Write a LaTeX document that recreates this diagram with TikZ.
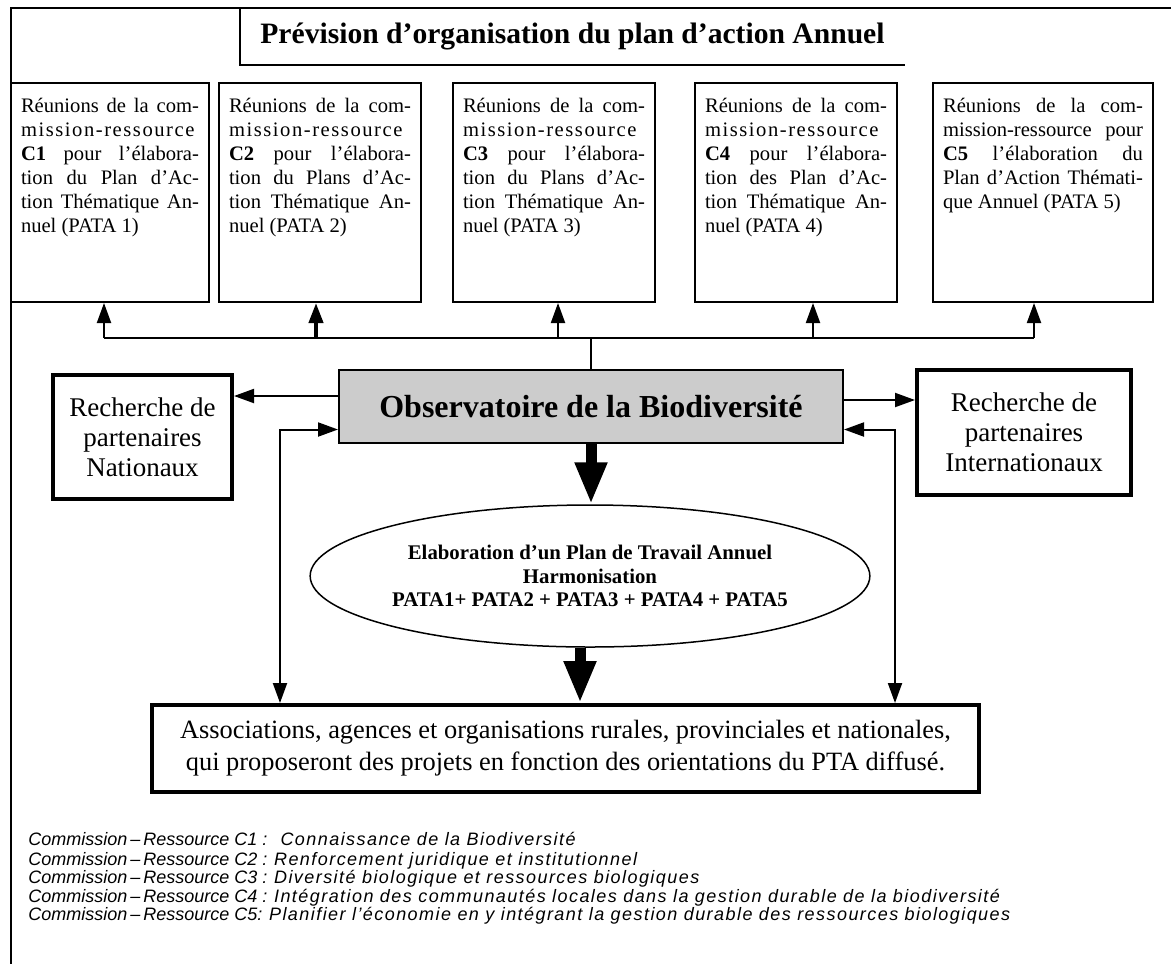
\documentclass[tikz,border=0pt]{standalone}
\usepackage{fontspec}
\setmainfont{Liberation Serif}
\newfontfamily\legendfont{Liberation Sans}
\usepackage{xcolor}
\usepackage{tikz}
\definecolor{obsgray}{RGB}{204, 204, 204}
\usetikzlibrary{shapes.geometric, arrows.meta, calc}

\newcommand{\reunion}[2]{\parbox[t][97.3pt][t]{#1}{\hyphenpenalty=10000\strut #2}}
\newcommand{\spaced}[1]{{\addfontfeature{LetterSpace=7.5}#1}}
\newcommand{\ressource}[2]{Commission\,–\,Ressource #1 {\addfontfeature{LetterSpace=8}#2}}

\begin{document}
\begin{tikzpicture}[
    x=0.5pt, y=-0.5pt,
    pata/.style={draw, line width=1pt, inner xsep=5pt, inner ysep=6.1pt, font=\fontsize{10.3}{12}\selectfont},
    partner/.style={draw, line width=2pt, align=center, font=\fontsize{13.5}{15}\selectfont},
    conn/.style={line width=1pt},
    tip/.style={conn, -{Triangle[length=10pt, width=7pt]}},
    dbl/.style={conn, {Triangle[length=10pt, width=7pt]}-{Triangle[length=10pt, width=7pt]}},
    bigarrow/.style={line width=5.5pt, -{Triangle[length=21pt, width=15pt]}},
    legend/.style={anchor=base west, inner sep=0pt, font=\legendfont\itshape\fontsize{9}{10}\selectfont}
]
    \useasboundingbox (0,0) rectangle (1171,964);
    \draw[conn] (1171,8) -| (11,964);

    \node[minimum width=332.5pt, minimum height=28.5pt, inner sep=0pt, font=\bfseries\fontsize{14.8}{17}\selectfont] (title) at (572.5,36.5) {Prévision d’organisation du plan d’action Annuel};
    \draw[conn] (title.north west) |- (title.south east);

    % commissions-ressources
    \node[pata] (b1) at (110,192.5) {\reunion{89pt}{Réunions de la com-\linebreak \spaced{mission-ressource}\linebreak \textbf{C1} pour l’élabora-\linebreak tion du Plan d’Ac-\linebreak tion Thématique An-\linebreak nuel (PATA 1)}};
    \node[pata] (b2) at (320,192.5) {\reunion{91pt}{Réunions de la com-\linebreak \spaced{mission-ressource}\linebreak \textbf{C2} pour l’élabora-\linebreak tion du Plans d’Ac-\linebreak tion Thématique An-\linebreak nuel (PATA 2)}};
    \node[pata] (b3) at (554,192.5) {\reunion{91pt}{Réunions de la com-\linebreak \spaced{mission-ressource}\linebreak \textbf{C3} pour l’élabora-\linebreak tion du Plans d’Ac-\linebreak tion Thématique An-\linebreak nuel (PATA 3)}};
    \node[pata] (b4) at (796,192.5) {\reunion{91pt}{Réunions de la com-\linebreak \spaced{mission-ressource}\linebreak \textbf{C4} pour l’élabora-\linebreak tion des Plan d’Ac-\linebreak tion Thématique An-\linebreak nuel (PATA 4)}};
    \node[pata] (b5) at (1043,192.5) {\reunion{100pt}{Réunions de la com-\linebreak mission-ressource pour\linebreak \textbf{C5} l’élaboration du\linebreak Plan d’Action Thémati-\linebreak que Annuel (PATA 5)}};

    \node[draw, conn, fill=obsgray, minimum width=252pt, minimum height=36.5pt, inner sep=0pt, font=\bfseries\fontsize{16}{19}\selectfont] (obs) at (591,406.5) {Observatoire de la Biodiversité};
    \node[partner, minimum width=89.5pt, minimum height=62pt] (nat) at (142.5,437) {Recherche de\\partenaires\\Nationaux};
    \node[partner, minimum width=107pt, minimum height=62.5pt] (inter) at (1024,432.5) {Recherche de\\partenaires\\Internationaux};
    \node[draw, ellipse, line width=0.75pt, minimum width=243pt, minimum height=71pt, inner sep=0pt, align=center, font=\bfseries\fontsize{10.4}{11.75}\selectfont] (plan) at (590,576) {Elaboration d’un Plan de Travail Annuel\\Harmonisation\\PATA1+ PATA2 + PATA3 + PATA4 + PATA5};
    \node[partner, font=\fontsize{13.2}{16}\selectfont, minimum width=413.5pt, minimum height=43.5pt] (asso) at (565.5,748.5) {Associations, agences et organisations rurales, provinciales et nationales,\\qui proposeront des projets en fonction des orientations du PTA diffusé.};

    % distribution vers les commissions
    \coordinate (t1) at (104,338);
    \coordinate (t2) at (316,338);
    \coordinate (t3) at (558,338);
    \coordinate (t4) at (813,338);
    \coordinate (t5) at (1034,338);
    \draw[conn] (t1) -- (t5);
    \draw[conn] (obs.north) -- (obs.north |- t1);
    \foreach \i in {1,3,4,5}
        \draw[tip] (t\i) -- (t\i |- b\i.south);
    \draw[tip, line width=2pt] (t2) -- (t2 |- b2.south);

    % partenaires
    \coordinate (oNat) at ([yshift=5.25pt]obs.west);
    \coordinate (oInt) at ([yshift=3.25pt]obs.east);
    \draw[tip] (oNat) -- (oNat -| nat.east);
    \draw[tip] (oInt) -- (oInt -| inter.west);
    \coordinate (iNat) at ([yshift=-11.5pt]obs.west);
    \coordinate (iInt) at ([yshift=-11.5pt]obs.east);
    \draw[dbl] (iNat) -| ([xshift=65pt]asso.north west);
    \draw[dbl] (iInt) -| ([xshift=-43pt]asso.north east);

    \draw[bigarrow] (obs.south) -- (obs.south |- plan.north);
    \draw[bigarrow] ([xshift=-5pt]plan.south) -- ([xshift=-5pt]plan.south |- asso.north);

    \node[legend] (c1) at (28,845) {\ressource{C1 :}{\ Connaissance de la Biodiversité}};
    \node[legend] (c2) at (28,865) {\ressource{C2 :}{Renforcement juridique et institutionnel}};
    \node[legend] (c3) at (28,883) {\ressource{C3 :}{Diversité biologique et ressources biologiques}};
    \node[legend] (c4) at (28,902) {\ressource{C4 :}{Intégration des communautés locales dans la gestion durable de la biodiversité}};
    \node[legend] (c5) at (28,920) {\ressource{C5:}{Planifier l’économie en y intégrant la gestion durable des ressources biologiques}};
\end{tikzpicture}
\end{document}
